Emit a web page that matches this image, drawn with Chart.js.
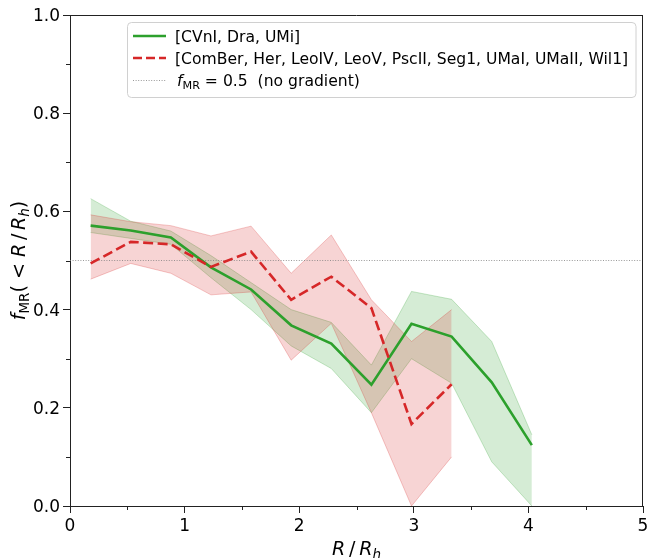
<!DOCTYPE html>
<html><head><meta charset="utf-8">
<script src="https://cdn.jsdelivr.net/npm/chart.js@4.4.1/dist/chart.umd.min.js"></script>
<style>html,body{margin:0;padding:0;background:#fff}canvas{display:block}</style>
</head><body>
<canvas id="c" width="648" height="558"></canvas>
<script>
// ---- data ----
const radiusGreen = [0.18, 0.53, 0.88, 1.23, 1.58, 1.93, 2.28, 2.63, 2.98, 3.33, 3.68, 4.03];
const fmrGreen    = [0.571, 0.561, 0.547, 0.486, 0.441, 0.368, 0.331, 0.247, 0.371, 0.345, 0.252, 0.124];
const upperGreen  = [0.626, 0.580, 0.560, 0.510, 0.455, 0.400, 0.374, 0.287, 0.437, 0.421, 0.335, 0.145];
const lowerGreen  = [0.557, 0.545, 0.533, 0.465, 0.400, 0.326, 0.280, 0.190, 0.300, 0.250, 0.090, 0.000];

const radiusRed = [0.18, 0.53, 0.88, 1.23, 1.58, 1.93, 2.28, 2.63, 2.98, 3.33];
const fmrRed    = [0.494, 0.538, 0.533, 0.487, 0.518, 0.420, 0.467, 0.403, 0.167, 0.248];
const upperRed  = [0.593, 0.579, 0.571, 0.550, 0.570, 0.474, 0.552, 0.420, 0.335, 0.400];
const lowerRed  = [0.462, 0.494, 0.474, 0.430, 0.436, 0.297, 0.372, 0.190, 0.000, 0.100];

const refValue = 0.5;
const refRange = [0, 5];

const xTicks = [0, 1, 2, 3, 4, 5];
const yTicks = [0.0, 0.2, 0.4, 0.6, 0.8, 1.0];

const legendLabels = ['[CVnI, Dra, UMi]', '[ComBer, Her, LeoIV, LeoV, PscII, Seg1, UMaI, UMaII, Wil1]'];

// ---- styling ----
const FONT = '"DejaVu Sans", Verdana, sans-serif';
const GREEN = '#2ca02c', RED = '#d62728';
const GREEN_FILL = 'rgba(44,160,44,0.2)', RED_FILL = 'rgba(214,39,40,0.2)';
const GREEN_EDGE = 'rgba(44,160,44,0.25)', RED_EDGE = 'rgba(214,39,40,0.25)';

function pts(xs, ys) { return xs.map((x, i) => ({ x: x, y: ys[i] })); }

function drawRich(ctx, parts, x, y, align) {
  let w = 0;
  parts.forEach(p => { ctx.font = (p.italic ? 'italic ' : '') + p.size + 'px ' + FONT; p.w = ctx.measureText(p.t).width; w += p.w; });
  let cx = align === 'center' ? x - w / 2 : x;
  ctx.textAlign = 'left'; ctx.textBaseline = 'alphabetic';
  parts.forEach(p => { ctx.font = (p.italic ? 'italic ' : '') + p.size + 'px ' + FONT; ctx.fillText(p.t, cx, y + (p.dy || 0)); cx += p.w; });
}

const deco = {
  id: 'deco',
  afterDraw(chart) {
    const ctx = chart.ctx, a = chart.chartArea, xs = chart.scales.x, ys = chart.scales.y;
    ctx.save();
    ctx.strokeStyle = '#222'; ctx.lineWidth = 1;
    ctx.beginPath();
    ctx.moveTo(a.left, a.top + 0.5); ctx.lineTo(a.right, a.top + 0.5);
    ctx.moveTo(a.right - 0.5, a.top); ctx.lineTo(a.right - 0.5, a.bottom);
    ctx.stroke();
    ctx.beginPath();
    [0.5, 1.5, 2.5, 3.5, 4.5].forEach(v => { const px = Math.round(xs.getPixelForValue(v)) + 0.5; ctx.moveTo(px, a.bottom); ctx.lineTo(px, a.bottom + 4); });
    [0.1, 0.3, 0.5, 0.7, 0.9].forEach(v => { const py = Math.round(ys.getPixelForValue(v)) + 0.5; ctx.moveTo(a.left, py); ctx.lineTo(a.left - 4, py); });
    ctx.stroke();
    ctx.fillStyle = '#000';
    drawRich(ctx, [
      { t: 'R', size: 19, italic: true }, { t: '\u2009/\u2009', size: 19 },
      { t: 'R', size: 19, italic: true }, { t: 'h', size: 13.5, italic: true, dy: 4 }
    ], (a.left + a.right) / 2, 555, 'center');
    ctx.save();
    ctx.translate(25, (a.top + a.bottom) / 2);
    ctx.rotate(-Math.PI / 2);
    drawRich(ctx, [
      { t: 'f', size: 19, italic: true }, { t: 'MR', size: 13.5, dy: 4 },
      { t: '(', size: 19 }, { t: ' < ', size: 19 }, { t: 'R', size: 19, italic: true },
      { t: '\u2009/\u2009', size: 19 }, { t: 'R', size: 19, italic: true },
      { t: 'h', size: 13.5, italic: true, dy: 4 }, { t: ')', size: 19 }
    ], 0, 0, 'center');
    ctx.restore();
    // legend
    const lx = 127.5, ly = 22.5, lw = 508.5, lh = 75, r = 4;
    ctx.beginPath();
    ctx.moveTo(lx + r, ly); ctx.lineTo(lx + lw - r, ly); ctx.quadraticCurveTo(lx + lw, ly, lx + lw, ly + r);
    ctx.lineTo(lx + lw, ly + lh - r); ctx.quadraticCurveTo(lx + lw, ly + lh, lx + lw - r, ly + lh);
    ctx.lineTo(lx + r, ly + lh); ctx.quadraticCurveTo(lx, ly + lh, lx, ly + lh - r);
    ctx.lineTo(lx, ly + r); ctx.quadraticCurveTo(lx, ly, lx + r, ly); ctx.closePath();
    ctx.fillStyle = 'rgba(255,255,255,0.8)'; ctx.fill();
    ctx.strokeStyle = '#d0d0d0'; ctx.lineWidth = 1; ctx.stroke();
    ctx.lineWidth = 2.6; ctx.strokeStyle = GREEN; ctx.setLineDash([]);
    ctx.beginPath(); ctx.moveTo(133, 36); ctx.lineTo(166, 36); ctx.stroke();
    ctx.strokeStyle = RED; ctx.setLineDash([9, 4]);
    ctx.beginPath(); ctx.moveTo(133, 58); ctx.lineTo(166, 58); ctx.stroke();
    ctx.strokeStyle = 'rgba(128,128,128,0.8)'; ctx.lineWidth = 1; ctx.setLineDash([1, 1.6]);
    ctx.beginPath(); ctx.moveTo(133, 80.5); ctx.lineTo(166, 80.5); ctx.stroke();
    ctx.setLineDash([]);
    ctx.fillStyle = '#000';
    drawRich(ctx, [{ t: legendLabels[0], size: 15.6 }], 175, 41.5, 'left');
    drawRich(ctx, [{ t: legendLabels[1], size: 15.6 }], 175, 63.5, 'left');
    drawRich(ctx, [
      { t: 'f', size: 15.6, italic: true }, { t: 'MR', size: 11.2, dy: 3 },
      { t: ' = 0.5', size: 15.6 }, { t: '  (no gradient)', size: 15.6 }
    ], 177, 85.5, 'left');
    ctx.restore();
  }
};

const line = (data, color, extra) => Object.assign({
  data: data, borderColor: color, backgroundColor: color, pointRadius: 0, tension: 0, fill: false
}, extra);

new Chart(document.getElementById('c'), {
  type: 'line',
  data: {
    datasets: [
      line(pts(radiusGreen, lowerGreen), GREEN_EDGE, { borderWidth: 1, order: 10 }),
      line(pts(radiusGreen, upperGreen), GREEN_EDGE, { borderWidth: 1, order: 10, fill: '-1', backgroundColor: GREEN_FILL }),
      line(pts(radiusRed, lowerRed), RED_EDGE, { borderWidth: 1, order: 9 }),
      line(pts(radiusRed, upperRed), RED_EDGE, { borderWidth: 1, order: 9, fill: '-1', backgroundColor: RED_FILL }),
      line(refRange.map(x => ({ x: x, y: refValue })), 'rgba(128,128,128,0.8)', { borderWidth: 1, borderDash: [1, 1.6], order: 5 }),
      line(pts(radiusGreen, fmrGreen), GREEN, { borderWidth: 2.6, order: 2 }),
      line(pts(radiusRed, fmrRed), RED, { borderWidth: 2.6, borderDash: [10, 4.5], order: 1 })
    ]
  },
  options: {
    responsive: false, animation: false, devicePixelRatio: 1,
    layout: { padding: { left: 0, right: 5, top: 15, bottom: 0 } },
    plugins: { legend: { display: false }, tooltip: { enabled: false } },
    scales: {
      x: {
        type: 'linear', min: 0, max: 5,
        afterBuildTicks: s => { s.ticks = xTicks.map(v => ({ value: v })); },
        afterFit: s => { s.height = 52; s.paddingLeft = 0; s.paddingRight = 0; },
        ticks: { color: '#000', font: { family: FONT, size: 17 }, padding: 3, maxRotation: 0, callback: v => String(v) },
        grid: { display: true, drawOnChartArea: false, drawTicks: true, tickLength: 7, tickColor: '#222', color: '#222' },
        border: { display: true, color: '#222', width: 1 }
      },
      y: {
        type: 'linear', min: 0, max: 1,
        afterBuildTicks: s => { s.ticks = yTicks.map(v => ({ value: v })); },
        afterFit: s => { s.width = 70; s.paddingTop = 0; s.paddingBottom = 0; },
        ticks: { color: '#000', font: { family: FONT, size: 17 }, padding: 3, labelOffset: 1.5, callback: v => Number(v).toFixed(1) },
        grid: { display: true, drawOnChartArea: false, drawTicks: true, tickLength: 7, tickColor: '#222', color: '#222' },
        border: { display: true, color: '#222', width: 1 }
      }
    }
  },
  plugins: [deco]
});
</script>
</body></html>
